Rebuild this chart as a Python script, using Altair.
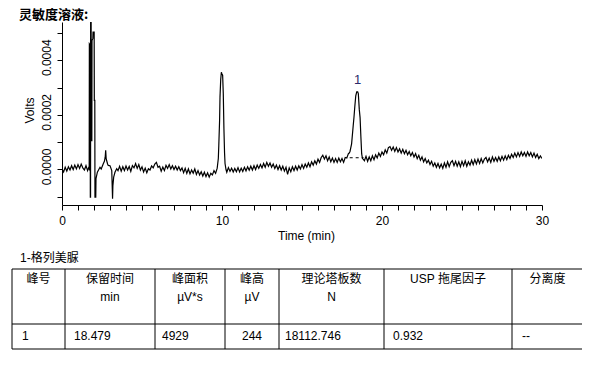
import altair as alt
import pandas as pd

# ---------------- chromatogram data (time in min, signal in µV) ----------------
SEG_PRE = [(0.0, 2), (0.1, -9), (0.2, 8), (0.3, -6), (0.4, 10), (0.5, -2), (0.6, 14), (0.7, 0),
           (0.8, 16), (0.9, 2), (1.0, 18), (1.1, 4), (1.2, 20), (1.3, 6), (1.4, -2), (1.5, 14),
           (1.6, -4), (1.66, 6), (1.70, 2)]
SEG_SOLVENT = [(1.71, 460), (1.76, 455), (1.77, -101), (1.785, -101), (1.79, 560), (1.82, 560),
               (1.83, 106), (1.865, 106), (1.875, 472), (1.93, 480), (1.94, 503), (2.01, 503),
               (2.02, 253), (2.05, 253), (2.06, -101), (2.11, -101), (2.125, -33), (2.21, -10),
               (2.3, 0), (2.375, 8), (2.45, 2), (2.58, 21), (2.65, 30), (2.70, 45), (2.73, 70),
               (2.76, 40), (2.79, 33), (2.85, 20), (2.89, 15), (3.0, 14), (3.05, 6), (3.11, -4),
               (3.16, -107), (3.18, -60), (3.23, -28), (3.31, -10), (3.42, 3)]
SEG_BASE1 = [(3.5, -4), (3.6, 12), (3.7, -6), (3.8, 10), (3.9, -4), (4.0, 13), (4.1, -2), (4.2, 11),
             (4.3, -7), (4.4, 14), (4.5, 6), (4.6, 22), (4.7, 4), (4.8, 18), (4.9, -2), (5.0, 10),
             (5.1, -9), (5.2, 5), (5.3, -12), (5.4, 3), (5.5, -2), (5.6, 13), (5.7, 6), (5.8, 20),
             (5.9, 26), (6.0, 8), (6.1, 12), (6.2, -6), (6.3, 9), (6.4, -4), (6.5, 15), (6.6, 4),
             (6.7, 18), (6.8, 2), (6.9, 14), (7.0, 0), (7.1, 12), (7.2, -2), (7.3, 10), (7.4, -4),
             (7.5, 6), (7.6, -12), (7.7, 4), (7.8, -14), (7.9, 2), (8.0, -16), (8.1, -2), (8.2, -14),
             (8.3, 2), (8.4, -18), (8.5, -4), (8.6, -20), (8.7, -8), (8.8, -24), (8.9, -10),
             (9.0, -26), (9.1, -12), (9.2, -28), (9.3, -14), (9.4, -20), (9.5, -4), (9.6, -14),
             (9.7, 5)]
SEG_PEAK10 = [(9.77, 40), (9.8, 88), (9.85, 180), (9.875, 265), (9.92, 330), (9.96, 356),
              (10.0, 350), (10.04, 345), (10.08, 277), (10.12, 150), (10.16, 60), (10.19, 22),
              (10.25, 0)]
SEG_BASE2 = [(10.3, -10), (10.4, 7), (10.5, -7), (10.6, 5), (10.7, -9), (10.8, 4), (10.9, -8),
             (11.0, 7), (11.1, -9), (11.2, 5), (11.3, -7), (11.4, 8), (11.5, -5), (11.6, 10),
             (11.7, -3), (11.8, 12), (11.9, -2), (12.0, 14), (12.1, 0), (12.2, 16), (12.3, 4),
             (12.4, 18), (12.5, 6), (12.6, 22), (12.7, 8), (12.8, 26), (12.9, 12), (13.0, 24),
             (13.1, 8), (13.2, 20), (13.3, 4), (13.4, 16), (13.5, 0), (13.6, 14), (13.7, -2),
             (13.8, 12), (13.9, -6), (14.0, 8), (14.1, -18), (14.2, 6), (14.3, -8), (14.4, 10),
             (14.5, -4), (14.6, 12), (14.7, -2), (14.8, 14), (14.9, 2), (15.0, 18), (15.1, 4),
             (15.2, 20), (15.3, 8), (15.4, 24), (15.5, 10), (15.6, 28), (15.7, 16), (15.8, 32),
             (15.9, 20), (16.0, 38), (16.1, 26), (16.2, 44), (16.3, 52), (16.4, 38), (16.5, 50),
             (16.6, 32), (16.7, 46), (16.8, 28), (16.9, 42), (17.0, 26), (17.1, 40), (17.2, 26),
             (17.3, 42), (17.4, 28), (17.5, 40), (17.6, 26), (17.7, 44), (17.8, 42), (17.9, 58)]
SEG_PEAK1 = [(17.95, 60), (18.0, 66), (18.1, 94), (18.2, 160), (18.25, 192), (18.3, 230),
             (18.36, 270), (18.42, 284), (18.48, 284), (18.52, 278), (18.58, 220), (18.63, 190),
             (18.68, 120), (18.73, 57), (18.78, 40), (18.85, 36)]
SEG_BASE3 = [(18.9, 32), (19.0, 48), (19.1, 30), (19.2, 46), (19.3, 32), (19.4, 50), (19.5, 36),
             (19.6, 54), (19.7, 42), (19.8, 60), (19.9, 48), (20.0, 64), (20.1, 54), (20.2, 72),
             (20.3, 60), (20.4, 80), (20.5, 84), (20.6, 70), (20.7, 82), (20.8, 66), (20.9, 80),
             (21.0, 64), (21.1, 76), (21.2, 60), (21.3, 74), (21.4, 58), (21.5, 70), (21.6, 54),
             (21.7, 66), (21.8, 50), (21.9, 62), (22.0, 46), (22.1, 58), (22.2, 40), (22.3, 52),
             (22.4, 34), (22.5, 46), (22.6, 28), (22.7, 40), (22.8, 24), (22.9, 34), (23.0, 18),
             (23.1, 30), (23.2, 12), (23.3, 24), (23.4, 8), (23.5, 22), (23.6, 6), (23.7, 20),
             (23.8, 4), (23.9, 24), (24.0, 8), (24.1, 28), (24.2, 10), (24.3, 26), (24.4, 32),
             (24.5, 14), (24.6, 30), (24.7, 12), (24.8, 28), (24.9, 10), (25.0, 30), (25.1, 14),
             (25.2, 32), (25.3, 12), (25.4, 28), (25.5, 16), (25.6, 34), (25.7, 18), (25.8, 36),
             (25.9, 20), (26.0, 38), (26.1, 22), (26.2, 40), (26.3, 24), (26.4, 38), (26.5, 44),
             (26.6, 28), (26.7, 42), (26.8, 26), (26.9, 46), (27.0, 30), (27.1, 44), (27.2, 30),
             (27.3, 46), (27.4, 32), (27.5, 48), (27.6, 34), (27.7, 50), (27.8, 36), (27.9, 52),
             (28.0, 40), (28.1, 56), (28.2, 44), (28.3, 60), (28.4, 46), (28.5, 62), (28.6, 48),
             (28.7, 64), (28.8, 50), (28.9, 62), (29.0, 48), (29.1, 64), (29.2, 50), (29.3, 62),
             (29.4, 46), (29.5, 60), (29.6, 44), (29.7, 56), (29.8, 40), (29.9, 50), (30.0, 40)]

PEAK_NAMES = ["1"]
PEAK_RT = [18.479]
PEAK_TOP_UV = [284]
PEAK_BASE_T = [17.98, 18.85]
PEAK_BASE_UV = [43, 43]

# tick values
X_TICKS = list(range(31))
Y_TICKS = [-0.0001, 0, 0.0001, 0.0002, 0.0003, 0.0004, 0.0005]

# ---------------- texts & table data ----------------
CHART_TITLE = "灵敏度溶液:"
CAPTION = "1-格列美脲"
HEAD_1 = ["峰号", "保留时间", "峰面积", "峰高", "理论塔板数", "USP 拖尾因子", "分离度"]
HEAD_2 = ["", "min", "µV*s", "µV", "N", "", ""]
ROW_1 = ["1", "18.479", "4929", "244", "18112.746", "0.932", "--"]

# ---------------- layout constants ----------------
COL_WIDTHS = [53, 90, 70, 54, 105, 128, 71]
CELL_PAD = [10, 9, 7, 17, 6, 9, 10]
ROW_LINES = [0, 55, 80]
FONT = "Liberation Sans, Arial, Noto Sans CJK SC"

segments = [SEG_PRE, SEG_SOLVENT, SEG_BASE1, SEG_PEAK10, SEG_BASE2, SEG_PEAK1, SEG_BASE3]
points = [p for seg in segments for p in seg]
trace_df = pd.DataFrame({"time": [p[0] for p in points],
                         "volts": [p[1] / 1e6 for p in points]})

xs = alt.Scale(domain=[0, 30], nice=False, zero=False)
ys = alt.Scale(domain=[-0.00013, 0.00054], nice=False, zero=False)

x_axis = alt.Axis(
    values=X_TICKS, tickCount=len(X_TICKS),
    labelExpr="datum.value % 10 == 0 ? datum.label : ''",
    labelOverlap=False,
    title="Time (min)", titleX=244, titleAlign="center",
    tickSize=5, labelPadding=5, titlePadding=4, labelFlush=False, grid=False,
    domainColor="black", tickColor="black", labelColor="black", titleColor="black",
    labelFont=FONT, titleFont=FONT, labelFontSize=12, titleFontSize=12,
    titleFontWeight="normal",
)
y_axis = alt.Axis(
    values=Y_TICKS, tickCount=len(Y_TICKS),
    labelExpr="round(datum.value * 10000) % 2 == 0 ? format(datum.value, '.4f') : ''",
    labelOverlap=False,
    labelAngle=-90, labelAlign="center", labelBaseline="bottom", labelOffset=-3,
    title="Volts", titleY=88, titlePadding=4,
    tickSize=5, labelPadding=4, grid=False,
    domainColor="black", tickColor="black", labelColor="black", titleColor="black",
    labelFont=FONT, titleFont=FONT, labelFontSize=12, titleFontSize=12,
    titleFontWeight="normal",
)

trace = alt.Chart(trace_df).mark_line(color="black", strokeWidth=1.2, clip=True).encode(
    x=alt.X("time:Q", scale=xs, axis=x_axis),
    y=alt.Y("volts:Q", scale=ys, axis=y_axis),
)

base_df = pd.DataFrame({"time": PEAK_BASE_T, "volts": [v / 1e6 for v in PEAK_BASE_UV]})
base_line = alt.Chart(base_df).mark_line(color="black", strokeWidth=1, strokeDash=[3, 3]).encode(
    x=alt.X("time:Q", scale=xs), y=alt.Y("volts:Q", scale=ys))

label_df = pd.DataFrame({"time": PEAK_RT, "volts": [v / 1e6 for v in PEAK_TOP_UV],
                         "name": PEAK_NAMES})
peak_label = alt.Chart(label_df).mark_text(
    font=FONT, fontSize=13, color="#2a2a6a", baseline="bottom", dy=-5
).encode(x=alt.X("time:Q", scale=xs), y=alt.Y("volts:Q", scale=ys), text="name:N")

chrom = alt.layer(trace, base_line, peak_label)

# ---------------- table ----------------
edges = [0]
for w in COL_WIDTHS:
    edges.append(edges[-1] + w)
total_w = edges[-1]
tx = alt.Scale(domain=[0, total_w], range=[-50, total_w - 50], nice=False, zero=False)
ty = alt.Scale(domain=[0, 80], range=[247, 327], nice=False, zero=False)

rule_rows = []
for yv in ROW_LINES:
    rule_rows.append({"x": 0, "x2": total_w, "y": yv, "y2": yv})
for e in edges:
    rule_rows.append({"x": e, "x2": e, "y": ROW_LINES[0], "y2": ROW_LINES[-1]})
rules = alt.Chart(pd.DataFrame(rule_rows)).mark_rule(color="black", strokeWidth=1).encode(
    x=alt.X("x:Q", scale=tx, axis=None), x2="x2:Q",
    y=alt.Y("y:Q", scale=ty, axis=None), y2="y2:Q")

centers = [(edges[i] + edges[i + 1]) / 2 for i in range(len(COL_WIDTHS))]
head_rows = [{"x": centers[i], "y": 14, "t": HEAD_1[i]} for i in range(len(HEAD_1))]
head_rows += [{"x": centers[i], "y": 32, "t": HEAD_2[i]} for i in range(len(HEAD_2)) if HEAD_2[i]]
heads = alt.Chart(pd.DataFrame(head_rows)).mark_text(
    font=FONT, fontSize=12, color="black", align="center", baseline="alphabetic"
).encode(x=alt.X("x:Q", scale=tx, axis=None), y=alt.Y("y:Q", scale=ty, axis=None), text="t:N")

cell_rows = [{"x": edges[i] + CELL_PAD[i], "y": 70.5, "t": ROW_1[i]} for i in range(len(ROW_1))]
cells = alt.Chart(pd.DataFrame(cell_rows)).mark_text(
    font=FONT, fontSize=12, color="black", align="left", baseline="alphabetic"
).encode(x=alt.X("x:Q", scale=tx, axis=None), y=alt.Y("y:Q", scale=ty, axis=None), text="t:N")

cap = alt.Chart(pd.DataFrame([{"x": 8, "y": -7, "t": CAPTION}])).mark_text(
    font=FONT, fontSize=12, color="black", align="left", baseline="alphabetic"
).encode(x=alt.X("x:Q", scale=tx, axis=None), y=alt.Y("y:Q", scale=ty, axis=None), text="t:N")

title_mark = alt.Chart(pd.DataFrame([{"x": 7, "y": -250, "t": CHART_TITLE}])).mark_text(
    font="Noto Sans CJK SC", fontSize=13, fontWeight="bold", color="black",
    align="left", baseline="alphabetic"
).encode(x=alt.X("x:Q", scale=tx, axis=None), y=alt.Y("y:Q", scale=ty, axis=None), text="t:N")

table = alt.layer(rules, heads, cells, cap, title_mark)

chart = alt.layer(chrom, table).resolve_scale(x="independent", y="independent").properties(
    width=480, height=183,
    autosize=alt.AutoSizeParams(type="none"),
    padding={"left": 54, "top": 14, "right": 40, "bottom": 150},
).configure_view(stroke=None)

chart.save("out.html", embed_options={"renderer": "svg", "actions": False})
